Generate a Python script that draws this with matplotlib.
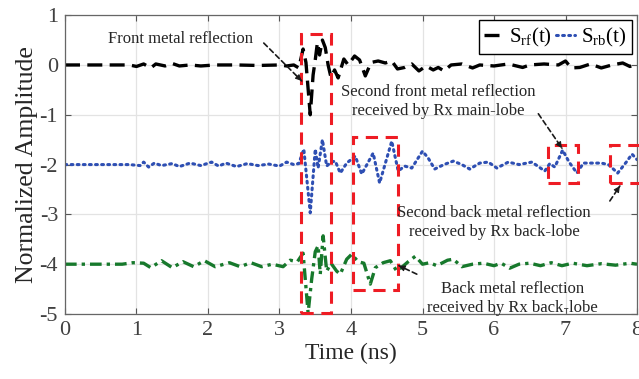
import matplotlib
matplotlib.use("Agg")
import matplotlib.pyplot as plt
from matplotlib.patches import Rectangle

plt.rcParams['font.family'] = ['Liberation Serif', 'DejaVu Serif']
plt.rcParams['mathtext.fontset'] = 'custom'
plt.rcParams['mathtext.rm'] = 'Liberation Serif'
plt.rcParams['axes.unicode_minus'] = False

# Received signals (ns, normalized amplitude; traces already offset)
t_rf = [0, 0.9, 1.0, 1.1, 1.2, 1.27, 1.4, 1.5, 1.6, 1.75, 1.9, 2.1, 2.4, 2.7, 3.0,
        3.1, 3.2, 3.27, 3.33, 3.37, 3.43, 3.47, 3.5, 3.53, 3.56, 3.6, 3.64, 3.68,
        3.72, 3.77, 3.82, 3.9, 3.96, 4.05, 4.12, 4.2, 4.28, 4.38, 4.48, 4.57, 4.65,
        4.75, 4.85, 4.95, 5.05, 5.15, 5.22, 5.3, 5.4, 5.55, 5.7, 5.8, 6.0, 6.2, 6.4,
        6.5, 6.7, 6.9, 7.0, 7.08, 7.2, 7.35, 7.5, 7.65, 7.8, 7.9, 8.0]
s_rf = [0, 0, -0.03, 0.02, -0.06, 0.02, -0.02, 0.03, -0.02, 0.0, -0.02, 0.0, 0.0, -0.01, 0.0,
        -0.02, 0.0, -0.06, 0.32, 0.05, -1.0, -0.2, 0.1, 0.45, 0.2, 0.5, 0.35, 0.0,
        -0.25, -0.1, -0.26, 0.12, 0.0, 0.18, 0.1, -0.22, 0.05, 0.08, 0.04, 0.08, -0.08,
        -0.05, 0.02, -0.12, -0.02, -0.1, -0.05, -0.12, 0.0, 0.02, -0.06, 0.0, -0.02, 0.02, -0.05,
        0.0, 0.02, 0.0, 0.08, -0.06, -0.05, 0.02, -0.06, 0.0, 0.04, -0.03, 0.02]

t_rb = [0, 0.9, 1.05, 1.1, 1.17, 1.25, 1.35, 1.5, 1.6, 1.75, 1.9, 2.05, 2.15, 2.25, 2.4,
        2.55, 2.7, 2.85, 3.0, 3.1, 3.2, 3.27, 3.34, 3.43, 3.5, 3.54, 3.6, 3.66, 3.72,
        3.78, 3.85, 3.94, 4.06, 4.15, 4.31, 4.4, 4.57, 4.66, 4.75, 4.85, 5.0, 5.08, 5.17,
        5.3, 5.43, 5.55, 5.66, 5.8, 5.92, 6.04, 6.2, 6.35, 6.53, 6.71, 6.78, 6.85, 6.96,
        7.05, 7.16, 7.25, 7.5, 7.6, 7.73, 7.85, 7.93, 8.0]
s_rb = [-2, -2, -2.02, -1.95, -2.05, -1.97, -2.02, -1.98, -2.04, -1.97, -2.02, -1.95, -2.03, -1.97, -2.04,
        -1.98, -2.02, -1.99, -2.03, -1.95, -2.0, -1.98, -1.69, -2.97, -1.69, -2.07, -1.5, -2.03, -1.95,
        -1.93, -2.17, -1.97, -1.83, -2.19, -1.77, -2.37, -1.53, -2.13, -2.03, -2.07, -1.73, -1.87, -2.09,
        -2.0, -1.93, -2.0, -2.09, -1.97, -1.95, -2.07, -1.95, -2.0, -1.95, -2.13, -1.98, -2.05, -1.71,
        -1.95, -2.17, -1.97, -1.97, -2.0, -2.17, -1.95, -1.79, -1.9]

t_bk = [0, 0.8, 0.95, 1.1, 1.2, 1.35, 1.5, 1.65, 1.8, 1.95, 2.1, 2.3, 2.45, 2.6, 2.75,
        2.9, 3.05, 3.15, 3.25, 3.33, 3.4, 3.45, 3.5, 3.54, 3.57, 3.61, 3.66, 3.72, 3.8,
        3.85, 3.94, 4.01, 4.1, 4.18, 4.27, 4.34, 4.45, 4.55, 4.64, 4.72, 4.8, 4.9, 5.0,
        5.1, 5.2, 5.35, 5.43, 5.55, 5.7, 5.85, 6.0, 6.1, 6.22, 6.35, 6.5, 6.65, 6.8,
        6.95, 7.1, 7.3, 7.5, 7.7, 7.9, 8.0]
s_bk = [-4, -4, -3.97, -3.98, -4.07, -3.93, -4.07, -3.95, -4.05, -3.93, -4.05, -3.97, -4.05, -3.97, -4.05,
        -4.0, -4.05, -3.92, -3.95, -3.78, -4.98, -4.3, -3.75, -3.63, -4.2, -3.43, -4.14, -3.98, -4.14,
        -4.2, -3.9, -3.8, -3.95, -3.98, -4.4, -4.07, -3.97, -3.93, -4.14, -4.05, -3.95, -3.84, -4.0,
        -3.97, -4.03, -3.92, -3.9, -4.05, -4.0, -3.98, -4.03, -3.98, -4.08, -4.0, -3.98, -4.03, -3.97,
        -4.03, -3.98, -4.03, -3.99, -4.02, -3.98, -4.0]

# Highlighted regions: (t_start, t_end, amp_low, amp_high)
boxes = [(3.30, 3.72, -4.97, 0.62),
         (4.03, 4.66, -4.52, -1.45),
         (6.76, 7.17, -2.37, -1.61),
         (7.62, 8.05, -2.37, -1.61)]

fig = plt.figure(figsize=(6.39, 3.79), dpi=100)
ax = fig.add_axes([0.1017, 0.1715, 0.8952, 0.7885])

ax.plot(t_rf, s_rf, color='black', lw=2.4, ls=(0, (4.5, 2.2)), label=r'S$_{\rm rf}$(t)')
ax.plot(t_rb, s_rb, color='#2e4fb3', lw=2.2, ls=(0, (0.6, 1.4)), dash_capstyle='round',
        label=r'S$_{\rm rb}$(t)')
ax.plot(t_bk, s_bk, color='#17792c', lw=2.4, ls=(0, (3.5, 1.5, 1.0, 1.5)))

for t0, t1, a0, a1 in boxes:
    ax.add_patch(Rectangle((t0, a0), t1 - t0, a1 - a0, fill=False, edgecolor='#ee1c24',
                           lw=2.2, ls=(0, (4, 2.5)), clip_on=False, zorder=4))

ax.set_xlim(0, 8)
ax.set_ylim(-5, 1)
ax.set_xticks(range(0, 9))
ax.set_yticks(range(-5, 2))
ax.grid(True, color='#e3e3e3', lw=0.9)
ax.set_axisbelow(True)
ax.tick_params(direction='in', length=4, width=0.8, colors='#555555', labelcolor='#404040',
               labelsize=16, top=True, right=True, pad=5)
for sp in ax.spines.values():
    sp.set_color('#666666')
    sp.set_linewidth(0.9)

ax.set_xlabel('Time (ns)', fontsize=17, color='#262626', labelpad=2)
ax.set_ylabel('Normalized Amplitude', fontsize=18.5, color='#262626', labelpad=1)

leg = ax.legend(loc='upper right', ncol=2, fontsize=15, handlelength=0.9,
                handletextpad=0.3, columnspacing=0.2, borderpad=0.25,
                borderaxespad=0.25, fancybox=False, framealpha=1)
leg.get_frame().set_edgecolor('black')
leg.get_frame().set_linewidth(1.0)


def pointer(head, tail):
    ax.annotate('', xy=head, xytext=tail,
                arrowprops=dict(arrowstyle='-', ls=(0, (3, 2)), lw=1.2, color='#1a1a1a',
                                shrinkA=0, shrinkB=0), zorder=5)
    dx = head[0] - tail[0]
    dy = head[1] - tail[1]
    ax.annotate('', xy=head, xytext=(head[0] - 0.15 * dx, head[1] - 0.15 * dy),
                arrowprops=dict(arrowstyle='-|>', lw=0.8, color='#1a1a1a', mutation_scale=9,
                                shrinkA=0, shrinkB=0), zorder=5)


txt = dict(fontsize=12, color='#262626', ha='center', va='center', linespacing=1.25, zorder=6)
ax.text(1.61, 0.52, 'Front metal reflection', **txt)
pointer((3.31, -0.32), (2.78, 0.44))
ax.text(5.22, -0.74, 'Second front metal reflection\nreceived by Rx main-lobe', **txt)
pointer((6.95, -1.67), (6.62, -0.98))
ax.text(6.0, -3.17, 'Second back metal reflection\nreceived by Rx back-lobe', **txt)
pointer((7.76, -2.43), (7.62, -2.73))
ax.text(6.26, -4.68, 'Back metal reflection\nreceived by Rx back-lobe', **txt)
pointer((4.67, -4.03), (4.92, -4.2))

fig.savefig('out.png', dpi=100)
